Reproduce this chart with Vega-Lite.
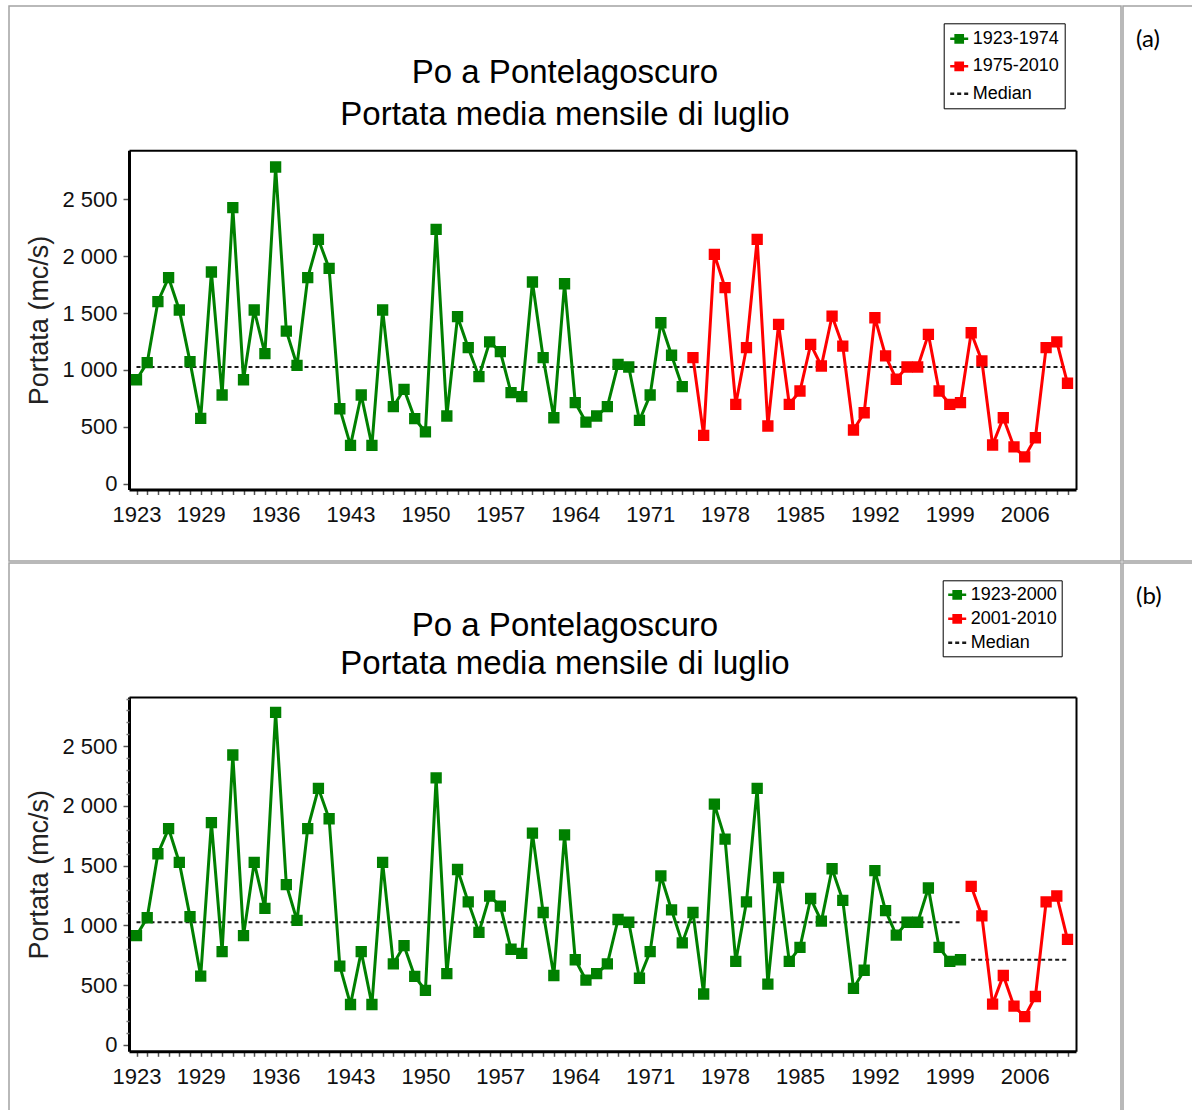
{
"$schema": "https://vega.github.io/schema/vega-lite/v6.json",
"padding": {"left": 8, "top": 5, "right": 0, "bottom": 0},
"background": "white",
"spacing": 0,
"datasets": {
"flow": [
{"yr":1923,"q":914,"a":"1923-1974","b":"1923-2000"},
{"yr":1924,"q":1064,"a":"1923-1974","b":"1923-2000"},
{"yr":1925,"q":1600,"a":"1923-1974","b":"1923-2000"},
{"yr":1926,"q":1811,"a":"1923-1974","b":"1923-2000"},
{"yr":1927,"q":1527,"a":"1923-1974","b":"1923-2000"},
{"yr":1928,"q":1073,"a":"1923-1974","b":"1923-2000"},
{"yr":1929,"q":575,"a":"1923-1974","b":"1923-2000"},
{"yr":1930,"q":1861,"a":"1923-1974","b":"1923-2000"},
{"yr":1931,"q":780,"a":"1923-1974","b":"1923-2000"},
{"yr":1932,"q":2427,"a":"1923-1974","b":"1923-2000"},
{"yr":1933,"q":914,"a":"1923-1974","b":"1923-2000"},
{"yr":1934,"q":1527,"a":"1923-1974","b":"1923-2000"},
{"yr":1935,"q":1143,"a":"1923-1974","b":"1923-2000"},
{"yr":1936,"q":2784,"a":"1923-1974","b":"1923-2000"},
{"yr":1937,"q":1342,"a":"1923-1974","b":"1923-2000"},
{"yr":1938,"q":1041,"a":"1923-1974","b":"1923-2000"},
{"yr":1939,"q":1811,"a":"1923-1974","b":"1923-2000"},
{"yr":1940,"q":2148,"a":"1923-1974","b":"1923-2000"},
{"yr":1941,"q":1893,"a":"1923-1974","b":"1923-2000"},
{"yr":1942,"q":659,"a":"1923-1974","b":"1923-2000"},
{"yr":1943,"q":337,"a":"1923-1974","b":"1923-2000"},
{"yr":1944,"q":780,"a":"1923-1974","b":"1923-2000"},
{"yr":1945,"q":337,"a":"1923-1974","b":"1923-2000"},
{"yr":1946,"q":1527,"a":"1923-1974","b":"1923-2000"},
{"yr":1947,"q":677,"a":"1923-1974","b":"1923-2000"},
{"yr":1948,"q":830,"a":"1923-1974","b":"1923-2000"},
{"yr":1949,"q":572,"a":"1923-1974","b":"1923-2000"},
{"yr":1950,"q":455,"a":"1923-1974","b":"1923-2000"},
{"yr":1951,"q":2236,"a":"1923-1974","b":"1923-2000"},
{"yr":1952,"q":595,"a":"1923-1974","b":"1923-2000"},
{"yr":1953,"q":1468,"a":"1923-1974","b":"1923-2000"},
{"yr":1954,"q":1196,"a":"1923-1974","b":"1923-2000"},
{"yr":1955,"q":941,"a":"1923-1974","b":"1923-2000"},
{"yr":1956,"q":1246,"a":"1923-1974","b":"1923-2000"},
{"yr":1957,"q":1161,"a":"1923-1974","b":"1923-2000"},
{"yr":1958,"q":800,"a":"1923-1974","b":"1923-2000"},
{"yr":1959,"q":765,"a":"1923-1974","b":"1923-2000"},
{"yr":1960,"q":1773,"a":"1923-1974","b":"1923-2000"},
{"yr":1961,"q":1108,"a":"1923-1974","b":"1923-2000"},
{"yr":1962,"q":580,"a":"1923-1974","b":"1923-2000"},
{"yr":1963,"q":1758,"a":"1923-1974","b":"1923-2000"},
{"yr":1964,"q":712,"a":"1923-1974","b":"1923-2000"},
{"yr":1965,"q":542,"a":"1923-1974","b":"1923-2000"},
{"yr":1966,"q":595,"a":"1923-1974","b":"1923-2000"},
{"yr":1967,"q":677,"a":"1923-1974","b":"1923-2000"},
{"yr":1968,"q":1049,"a":"1923-1974","b":"1923-2000"},
{"yr":1969,"q":1026,"a":"1923-1974","b":"1923-2000"},
{"yr":1970,"q":557,"a":"1923-1974","b":"1923-2000"},
{"yr":1971,"q":780,"a":"1923-1974","b":"1923-2000"},
{"yr":1972,"q":1415,"a":"1923-1974","b":"1923-2000"},
{"yr":1973,"q":1129,"a":"1923-1974","b":"1923-2000"},
{"yr":1974,"q":853,"a":"1923-1974","b":"1923-2000"},
{"yr":1975,"q":1108,"a":"1975-2010","b":"1923-2000"},
{"yr":1976,"q":425,"a":"1975-2010","b":"1923-2000"},
{"yr":1977,"q":2016,"a":"1975-2010","b":"1923-2000"},
{"yr":1978,"q":1723,"a":"1975-2010","b":"1923-2000"},
{"yr":1979,"q":698,"a":"1975-2010","b":"1923-2000"},
{"yr":1980,"q":1196,"a":"1975-2010","b":"1923-2000"},
{"yr":1981,"q":2148,"a":"1975-2010","b":"1923-2000"},
{"yr":1982,"q":507,"a":"1975-2010","b":"1923-2000"},
{"yr":1983,"q":1401,"a":"1975-2010","b":"1923-2000"},
{"yr":1984,"q":698,"a":"1975-2010","b":"1923-2000"},
{"yr":1985,"q":815,"a":"1975-2010","b":"1923-2000"},
{"yr":1986,"q":1225,"a":"1975-2010","b":"1923-2000"},
{"yr":1987,"q":1035,"a":"1975-2010","b":"1923-2000"},
{"yr":1988,"q":1474,"a":"1975-2010","b":"1923-2000"},
{"yr":1989,"q":1210,"a":"1975-2010","b":"1923-2000"},
{"yr":1990,"q":472,"a":"1975-2010","b":"1923-2000"},
{"yr":1991,"q":624,"a":"1975-2010","b":"1923-2000"},
{"yr":1992,"q":1459,"a":"1975-2010","b":"1923-2000"},
{"yr":1993,"q":1123,"a":"1975-2010","b":"1923-2000"},
{"yr":1994,"q":918,"a":"1975-2010","b":"1923-2000"},
{"yr":1995,"q":1026,"a":"1975-2010","b":"1923-2000"},
{"yr":1996,"q":1026,"a":"1975-2010","b":"1923-2000"},
{"yr":1997,"q":1313,"a":"1975-2010","b":"1923-2000"},
{"yr":1998,"q":815,"a":"1975-2010","b":"1923-2000"},
{"yr":1999,"q":698,"a":"1975-2010","b":"1923-2000"},
{"yr":2000,"q":712,"a":"1975-2010","b":"1923-2000"},
{"yr":2001,"q":1327,"a":"1975-2010","b":"2001-2010"},
{"yr":2002,"q":1079,"a":"1975-2010","b":"2001-2010"},
{"yr":2003,"q":340,"a":"1975-2010","b":"2001-2010"},
{"yr":2004,"q":580,"a":"1975-2010","b":"2001-2010"},
{"yr":2005,"q":323,"a":"1975-2010","b":"2001-2010"},
{"yr":2006,"q":235,"a":"1975-2010","b":"2001-2010"},
{"yr":2007,"q":404,"a":"1975-2010","b":"2001-2010"},
{"yr":2008,"q":1196,"a":"1975-2010","b":"2001-2010"},
{"yr":2009,"q":1246,"a":"1975-2010","b":"2001-2010"},
{"yr":2010,"q":883,"a":"1975-2010","b":"2001-2010"}
],
"medA": [
{"yr":1923,"q":1026,"a":"Median","g":"m1"},
{"yr":2010,"q":1026,"a":"Median","g":"m1"}
],
"medB": [
{"yr":1923,"q":1026,"b":"Median","g":"m1"},
{"yr":2000,"q":1026,"b":"Median","g":"m1"},
{"yr":2001,"q":712,"b":"Median","g":"m2"},
{"yr":2010,"q":712,"b":"Median","g":"m2"}
]
},
"resolve": {"scale": {"color": "independent", "strokeDash": "independent", "shape": "independent", "x": "independent", "y": "independent"}, "legend": {"color": "independent", "strokeDash": "independent", "shape": "independent"}},
"vconcat": [
{
"spacing": 0,
"resolve": {"scale": {"color": "independent", "strokeDash": "independent", "shape": "independent", "x": "independent", "y": "independent"}},
"hconcat": [
{
"width": 1112, "height": 555,
"view": {"stroke": "#a3a3a3", "strokeWidth": 1.5},
"title": {"text": ["Po a Pontelagoscuro", "Portata media mensile di luglio"], "fontSize": 33, "lineHeight": 42, "font": "Liberation Sans", "fontWeight": "normal", "color": "#000000", "anchor": "middle", "frame": "group", "offset": -126},
"resolve": {"axis": {"x": "independent", "y": "independent"}},
"layer": [
{
"data": {"name": "medA"},
"mark": {"type": "line", "strokeWidth": 2},
"encoding": {
"x": {"field": "yr", "type": "quantitative",
 "scale": {"domain": [1922.299, 2010.794], "range": [120, 1067], "nice": false, "zero": false},
 "axis": {"orient": "bottom", "offset": -71.5, "title": null, "grid": false,
  "values": [1923,1924,1925,1926,1927,1928,1929,1930,1931,1932,1933,1934,1935,1936,1937,1938,1939,1940,1941,1942,1943,1944,1945,1946,1947,1948,1949,1950,1951,1952,1953,1954,1955,1956,1957,1958,1959,1960,1961,1962,1963,1964,1965,1966,1967,1968,1969,1970,1971,1972,1973,1974,1975,1976,1977,1978,1979,1980,1981,1982,1983,1984,1985,1986,1987,1988,1989,1990,1991,1992,1993,1994,1995,1996,1997,1998,1999,2000,2001,2002,2003,2004,2005,2006,2007,2008,2009,2010],
  "labelExpr": "indexof([1923,1929,1936,1943,1950,1957,1964,1971,1978,1985,1992,1999,2006], datum.value) >= 0 ? format(datum.value, 'd') : ''",
  "labelOverlap": false, "labelFlush": false, "labelBound": false,
  "labelFontSize": 22, "labelColor": "#111111", "labelPadding": 10,
  "tickSize": 5, "tickColor": "#555555", "tickWidth": 1.5,
  "domainColor": "#000000", "domainWidth": 3}},
"y": {"field": "q", "type": "quantitative",
 "scale": {"domain": [-51, 2931], "range": [483.5, 144.3], "nice": false, "zero": false},
 "axis": {"orient": "left", "offset": -120, "grid": false,
  "values": [0, 500, 1000, 1500, 2000, 2500],
  "labelExpr": "replace(format(datum.value, ','), ',', ' ')",
  "labelFontSize": 22, "labelColor": "#111111", "labelPadding": 6,
  "tickSize": 6, "tickColor": "#555555", "tickWidth": 1.5,
  "domainColor": "#000000", "domainWidth": 3,
  "title": "Portata (mc/s)", "titleFontSize": 27, "titleFontWeight": "normal", "titleColor": "#222222", "titlePadding": 8}},
"color": {"field": "a", "type": "nominal", "scale": {"domain": ["1923-1974", "1975-2010", "Median"], "range": ["#008000", "#ff0000", "#1a1a1a"]},
 "legend": {"title": null, "orient": "none", "legendX": 934.7, "legendY": 17.3, "strokeColor": "#000000", "fillColor": "#ffffff", "padding": 5, "rowPadding": 7.5, "labelFontSize": 18, "labelColor": "#000000", "labelOffset": 3, "symbolSize": 324, "symbolStrokeWidth": 2.5}},
"strokeDash": {"field": "a", "type": "nominal", "scale": {"domain": ["1923-1974", "1975-2010", "Median"], "range": [[1, 0], [1, 0], [4, 3]]},
 "legend": {"title": null, "orient": "none", "legendX": 934.7, "legendY": 17.3, "strokeColor": "#000000", "fillColor": "#ffffff", "padding": 5, "rowPadding": 7.5, "labelFontSize": 18, "labelColor": "#000000", "labelOffset": 3, "symbolSize": 324, "symbolStrokeWidth": 2.5}},
"detail": {"field": "g"}
}
},
{
"data": {"name": "flow"},
"mark": {"type": "line", "strokeWidth": 3},
"encoding": {
"x": {"field": "yr", "type": "quantitative", "axis": {"orient": "top", "offset": -144.3, "labels": false, "ticks": false, "title": null, "grid": false, "domainColor": "#000000", "domainWidth": 2}},
"y": {"field": "q", "type": "quantitative", "axis": {"orient": "right", "offset": -45, "labels": false, "ticks": false, "title": null, "grid": false, "domainColor": "#000000", "domainWidth": 2}},
"color": {"field": "a", "type": "nominal",
 "legend": {"title": null, "orient": "none", "legendX": 934.7, "legendY": 17.3, "strokeColor": "#000000", "fillColor": "#ffffff", "padding": 5, "rowPadding": 7.5, "labelFontSize": 18, "labelColor": "#000000", "labelOffset": 3, "symbolSize": 324, "symbolStrokeWidth": 2.5}}
}
},
{
"data": {"name": "flow"},
"mark": {"type": "point", "filled": true, "size": 800, "opacity": 1},
"encoding": {
"x": {"field": "yr", "type": "quantitative", "axis": null},
"y": {"field": "q", "type": "quantitative", "axis": null},
"color": {"field": "a", "type": "nominal",
 "legend": {"title": null, "orient": "none", "legendX": 934.7, "legendY": 17.3, "strokeColor": "#000000", "fillColor": "#ffffff", "padding": 5, "rowPadding": 7.5, "labelFontSize": 18, "labelColor": "#000000", "labelOffset": 3, "symbolSize": 324, "symbolStrokeWidth": 2.5}},
"shape": {"field": "a", "type": "nominal", "scale": {"domain": ["1923-1974", "1975-2010", "Median"], "range": ["M-1,0H1M-0.4,-0.4H0.4V0.4H-0.4Z", "M-1,0H1M-0.4,-0.4H0.4V0.4H-0.4Z", "M-1,0H1"]},
 "legend": {"title": null, "orient": "none", "legendX": 934.7, "legendY": 17.3, "strokeColor": "#000000", "fillColor": "#ffffff", "padding": 5, "rowPadding": 7.5, "labelFontSize": 18, "labelColor": "#000000", "labelOffset": 3, "symbolSize": 324, "symbolStrokeWidth": 2.5}}
}
}
]
},
{
"width": 70, "height": 555,
"view": {"stroke": "#a3a3a3", "strokeWidth": 1.5},
"title": {"text": "(a)", "anchor": "start", "frame": "group", "offset": -46, "dx": 13, "fontSize": 24, "font": "Lato", "fontWeight": "normal", "color": "#000000"},
"data": {"values": [{"t": ""}]},
"mark": {"type": "text"},
"encoding": {"text": {"field": "t"}}
}
]
},
{
"spacing": 0,
"resolve": {"scale": {"color": "independent", "strokeDash": "independent", "shape": "independent", "x": "independent", "y": "independent"}},
"hconcat": [
{
"width": 1112, "height": 549,
"view": {"stroke": "#a3a3a3", "strokeWidth": 1.5},
"title": {"text": ["Po a Pontelagoscuro", "Portata media mensile di luglio"], "fontSize": 33, "lineHeight": 38, "font": "Liberation Sans", "fontWeight": "normal", "color": "#000000", "anchor": "middle", "frame": "group", "offset": -118},
"resolve": {"axis": {"x": "independent", "y": "independent"}},
"layer": [
{
"data": {"name": "medB"},
"mark": {"type": "line", "strokeWidth": 2},
"encoding": {
"x": {"field": "yr", "type": "quantitative",
 "scale": {"domain": [1922.299, 2010.794], "range": [120, 1067], "nice": false, "zero": false},
 "axis": {"orient": "bottom", "offset": -60.7, "title": null, "grid": false,
  "values": [1923,1924,1925,1926,1927,1928,1929,1930,1931,1932,1933,1934,1935,1936,1937,1938,1939,1940,1941,1942,1943,1944,1945,1946,1947,1948,1949,1950,1951,1952,1953,1954,1955,1956,1957,1958,1959,1960,1961,1962,1963,1964,1965,1966,1967,1968,1969,1970,1971,1972,1973,1974,1975,1976,1977,1978,1979,1980,1981,1982,1983,1984,1985,1986,1987,1988,1989,1990,1991,1992,1993,1994,1995,1996,1997,1998,1999,2000,2001,2002,2003,2004,2005,2006,2007,2008,2009,2010],
  "labelExpr": "indexof([1923,1929,1936,1943,1950,1957,1964,1971,1978,1985,1992,1999,2006], datum.value) >= 0 ? format(datum.value, 'd') : ''",
  "labelOverlap": false, "labelFlush": false, "labelBound": false,
  "labelFontSize": 22, "labelColor": "#111111", "labelPadding": 10,
  "tickSize": 5, "tickColor": "#555555", "tickWidth": 1.5,
  "domainColor": "#000000", "domainWidth": 3}},
"y": {"field": "q", "type": "quantitative",
 "scale": {"domain": [-55, 2913], "range": [488.3, 134], "nice": false, "zero": false},
 "axis": {"orient": "left", "offset": -120, "grid": false,
  "values": [0, 500, 1000, 1500, 2000, 2500],
  "labelExpr": "replace(format(datum.value, ','), ',', ' ')",
  "labelFontSize": 22, "labelColor": "#111111", "labelPadding": 6,
  "tickSize": 6, "tickColor": "#555555", "tickWidth": 1.5,
  "domainColor": "#000000", "domainWidth": 3,
  "title": "Portata (mc/s)", "titleFontSize": 27, "titleFontWeight": "normal", "titleColor": "#222222", "titlePadding": 8}},
"color": {"field": "b", "type": "nominal", "scale": {"domain": ["1923-2000", "2001-2010", "Median"], "range": ["#008000", "#ff0000", "#1a1a1a"]},
 "legend": {"title": null, "orient": "none", "legendX": 933.7, "legendY": 17.3, "strokeColor": "#000000", "fillColor": "#ffffff", "padding": 4, "rowPadding": 4, "labelFontSize": 18, "labelColor": "#000000", "labelOffset": 3, "symbolSize": 324, "symbolStrokeWidth": 2.5}},
"strokeDash": {"field": "b", "type": "nominal", "scale": {"domain": ["1923-2000", "2001-2010", "Median"], "range": [[1, 0], [1, 0], [4, 3]]},
 "legend": {"title": null, "orient": "none", "legendX": 933.7, "legendY": 17.3, "strokeColor": "#000000", "fillColor": "#ffffff", "padding": 4, "rowPadding": 4, "labelFontSize": 18, "labelColor": "#000000", "labelOffset": 3, "symbolSize": 324, "symbolStrokeWidth": 2.5}},
"detail": {"field": "g"}
}
},
{
"data": {"name": "flow"},
"mark": {"type": "line", "strokeWidth": 3},
"encoding": {
"x": {"field": "yr", "type": "quantitative", "axis": {"orient": "top", "offset": -134, "labels": false, "ticks": false, "title": null, "grid": false, "domainColor": "#000000", "domainWidth": 2}},
"y": {"field": "q", "type": "quantitative", "axis": {"orient": "right", "offset": -45, "labels": false, "ticks": false, "title": null, "grid": false, "domainColor": "#000000", "domainWidth": 2}},
"color": {"field": "b", "type": "nominal",
 "legend": {"title": null, "orient": "none", "legendX": 933.7, "legendY": 17.3, "strokeColor": "#000000", "fillColor": "#ffffff", "padding": 4, "rowPadding": 4, "labelFontSize": 18, "labelColor": "#000000", "labelOffset": 3, "symbolSize": 324, "symbolStrokeWidth": 2.5}}
}
},
{
"data": {"name": "flow"},
"mark": {"type": "point", "filled": true, "size": 800, "opacity": 1},
"encoding": {
"x": {"field": "yr", "type": "quantitative", "axis": null},
"y": {"field": "q", "type": "quantitative", "axis": {"orient": "left", "offset": -120, "labels": false, "domain": false, "title": null, "grid": false, "values": [100,200,300,400,600,700,800,900,1100,1200,1300,1400,1600,1700,1800,1900,2100,2200,2300,2400,2600,2700,2800,2900], "tickSize": 3, "tickColor": "#777777", "tickWidth": 1.5}},
"color": {"field": "b", "type": "nominal",
 "legend": {"title": null, "orient": "none", "legendX": 933.7, "legendY": 17.3, "strokeColor": "#000000", "fillColor": "#ffffff", "padding": 4, "rowPadding": 4, "labelFontSize": 18, "labelColor": "#000000", "labelOffset": 3, "symbolSize": 324, "symbolStrokeWidth": 2.5}},
"shape": {"field": "b", "type": "nominal", "scale": {"domain": ["1923-2000", "2001-2010", "Median"], "range": ["M-1,0H1M-0.4,-0.4H0.4V0.4H-0.4Z", "M-1,0H1M-0.4,-0.4H0.4V0.4H-0.4Z", "M-1,0H1"]},
 "legend": {"title": null, "orient": "none", "legendX": 933.7, "legendY": 17.3, "strokeColor": "#000000", "fillColor": "#ffffff", "padding": 4, "rowPadding": 4, "labelFontSize": 18, "labelColor": "#000000", "labelOffset": 3, "symbolSize": 324, "symbolStrokeWidth": 2.5}}
}
}
]
},
{
"width": 70, "height": 549,
"view": {"stroke": "#a3a3a3", "strokeWidth": 1.5},
"title": {"text": "(b)", "anchor": "start", "frame": "group", "offset": -46, "dx": 13, "fontSize": 24, "font": "Lato", "fontWeight": "normal", "color": "#000000"},
"data": {"values": [{"t": ""}]},
"mark": {"type": "text"},
"encoding": {"text": {"field": "t"}}
}
]
}
],
"config": {
"font": "Liberation Sans",
"axis": {"labelFont": "Liberation Sans", "titleFont": "Liberation Sans"},
"legend": {"labelFont": "Liberation Sans"}
}
}
